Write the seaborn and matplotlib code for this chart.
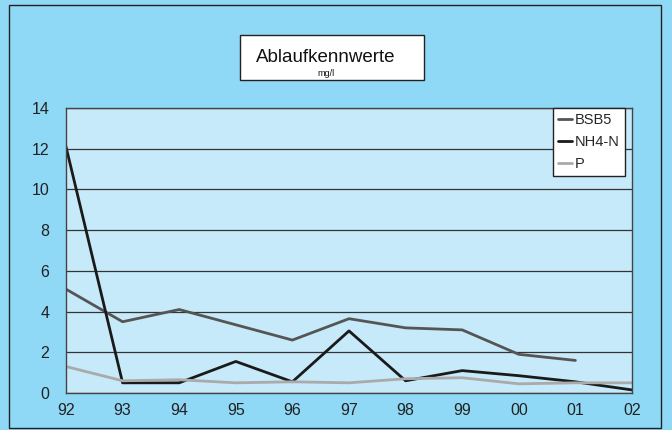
import numpy as np
import pandas as pd
import matplotlib
matplotlib.use("Agg")
import matplotlib.pyplot as plt
from matplotlib.patches import Rectangle
import seaborn as sns

# data (mg/l)
years = ["92", "93", "94", "95", "96", "97", "98", "99", "00", "01", "02"]
bsb5 = [5.1, 3.5, 4.1, 3.35, 2.6, 3.65, 3.2, 3.1, 1.9, 1.6, np.nan]
nh4n = [12.1, 0.5, 0.5, 1.55, 0.55, 3.05, 0.6, 1.1, 0.85, 0.55, 0.15]
p = [1.3, 0.6, 0.65, 0.5, 0.55, 0.5, 0.7, 0.75, 0.45, 0.5, 0.5]

df = pd.DataFrame({"Jahr": years, "BSB5": bsb5, "NH4-N": nh4n, "P": p})
long = df.melt(id_vars="Jahr", var_name="Parameter", value_name="Wert")
long["x"] = long["Jahr"].map({y: i for i, y in enumerate(years)})

sns.set_theme(style="white")
plt.rcParams["font.family"] = ["Liberation Sans", "DejaVu Sans"]

fig = plt.figure(figsize=(6.72, 4.30), dpi=100)
fig.patch.set_facecolor("#8fd8f6")
fig.patches.append(Rectangle((9 / 672, 2 / 430), 652 / 672, 423 / 430,
                             transform=fig.transFigure, fill=False,
                             edgecolor="#222222", linewidth=1.0))

ax = fig.add_axes([66 / 672, 37 / 430, 566 / 672, 285 / 430])
ax.set_facecolor("#c6eaf9")

palette = {"BSB5": "#555555", "NH4-N": "#1a1a1a", "P": "#aaaaaa"}
sns.lineplot(data=long, x="x", y="Wert", hue="Parameter", palette=palette,
             linewidth=2, ax=ax, legend=True)

ax.set_xlim(0, len(years) - 1)
ax.set_ylim(0, 14)
ax.set_yticks(range(0, 15, 2))
ax.set_xticks(range(len(years)))
ax.set_xticklabels(years)
ax.yaxis.grid(True, color="#333333", linewidth=0.9)
ax.set_axisbelow(True)
ax.set_xlabel("")
ax.set_ylabel("")
ax.tick_params(axis="both", labelsize=11.5, colors="#222222", length=0)
ax.tick_params(axis="y", pad=12)
ax.tick_params(axis="x", pad=7)
for s in ax.spines.values():
    s.set_color("#444444")
    s.set_linewidth(1.0)

leg = ax.legend(loc="upper right", bbox_to_anchor=(0.988, 1.0), frameon=True,
                fancybox=False, fontsize=10.5, handlelength=0.9, handletextpad=0.25,
                borderpad=0.35, labelspacing=0.55, borderaxespad=0)
leg.get_frame().set_edgecolor("#222222")
leg.get_frame().set_facecolor("white")
leg.get_frame().set_alpha(1)

# title box
fig.patches.append(Rectangle((240 / 672, 1 - 80 / 430), 184 / 672, 45 / 430,
                             transform=fig.transFigure, facecolor="white",
                             edgecolor="#222222", linewidth=1.0))
fig.text(326 / 672, 1 - 58 / 430, "Ablaufkennwerte", ha="center", va="center",
         fontsize=13.5, color="#111111")
fig.text(326 / 672, 1 - 73 / 430, "mg/l", ha="center", va="center",
         fontsize=6.5, color="#111111")

plt.savefig("out.png", dpi=100, facecolor=fig.get_facecolor())
